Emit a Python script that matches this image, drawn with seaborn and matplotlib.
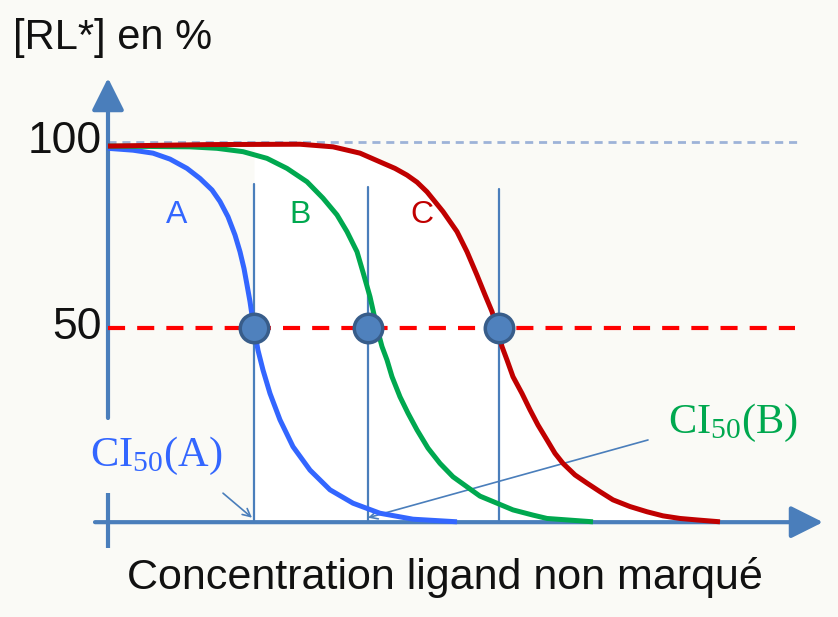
import numpy as np
import pandas as pd
import matplotlib
matplotlib.use("Agg")
import matplotlib.pyplot as plt
import seaborn as sns

# values
# x: concentration (arbitrary units), y: [RL*] in %
a_x = [0, 0.25, 0.45, 0.62, 0.79, 0.92, 1.04, 1.12, 1.20, 1.27, 1.32, 1.36, 1.39,
       1.42, 1.445, 1.47, 1.50, 1.55, 1.62, 1.72, 1.85, 2.02, 2.22, 2.45, 2.72,
       3.05, 3.49]
a_y = [98.3, 97.8, 97.0, 95.4, 92.9, 90.2, 87.1, 84.0, 79.9, 75.0, 70.5, 66.0, 61.6,
       57.1, 52.5, 48.5, 44.0, 38.7, 32.4, 25.3, 18.1, 11.8, 6.5, 2.9, 0.2,
       -1.4, -2.1]

b_x = [0, 0.82, 1.09, 1.35, 1.59, 1.79, 1.99, 2.15, 2.29, 2.39, 2.49, 2.55, 2.62,
       2.69, 2.74, 2.79, 2.84, 2.92, 3.00, 3.09, 3.20, 3.32, 3.45, 3.59, 3.72, 3.89,
       4.05, 4.25, 4.39, 4.85]
b_y = [98.9, 98.7, 98.3, 97.4, 95.6, 92.9, 89.3, 84.9, 80.4, 75.9, 70.5, 65.0, 58.4,
       50.0, 45.0, 41.4, 36.9, 31.5, 27.1, 22.6, 17.7, 13.6, 10.0, 7.3, 4.8, 2.9,
       1.1, -0.3, -1.2, -2.1]

c_x = [0, 1.0, 1.92, 2.25, 2.52, 2.75, 2.87, 2.99, 3.09, 3.19, 3.35, 3.49, 3.59,
       3.69, 3.77, 3.84, 3.89, 3.94, 3.99, 4.05, 4.14, 4.22, 4.30, 4.39, 4.47, 4.55,
       4.67, 4.79, 4.92, 5.05, 5.22, 5.39, 5.55, 5.72, 5.89, 6.12]
c_y = [98.9, 99.3, 99.4, 98.7, 97.0, 94.3, 92.9, 91.1, 89.2, 86.6, 81.3, 75.9, 70.5,
       64.2, 58.9, 54.4, 50.0, 45.0, 41.4, 36.9, 32.4, 28.0, 23.9, 19.9, 16.3, 13.6,
       10.5, 8.3, 6.0, 3.8, 2.0, 0.6, -0.5, -1.2, -1.6, -2.1]

curve_names = ["A", "B", "C"]
ci50_x = [1.46, 2.60, 3.91]      # CI50 of each curve
ci50_top = [88.7, 87.9, 87.4]    # top of the vertical guides
label_x = [0.69, 1.92, 3.14]     # where the letters A, B, C sit
label_y = 80.4
y_ticks = [100, 50]

colors = {"A": "#3366ff", "B": "#00a84f", "C": "#c00000"}
axis_col = "#4a7ebb"
bg = "#fafaf6"

df = pd.concat([
    pd.DataFrame({"x": a_x, "y": a_y, "curve": "A"}),
    pd.DataFrame({"x": b_x, "y": b_y, "curve": "B"}),
    pd.DataFrame({"x": c_x, "y": c_y, "curve": "C"}),
], ignore_index=True)
pts = pd.DataFrame({"x": ci50_x, "y": [50] * 3, "curve": curve_names})

sns.set_style("white")
plt.rcParams["font.family"] = ["Liberation Sans", "DejaVu Sans"]
plt.rcParams["mathtext.fontset"] = "custom"
plt.rcParams["mathtext.rm"] = "Liberation Serif"

fig = plt.figure(figsize=(8.38, 6.17), dpi=100, facecolor=bg)
ax = fig.add_axes([0, 0, 1, 1])
ax.set_facecolor(bg)

y0 = -2.2   # height of the drawn x axis

# white area under curve C, right of the first guide
cx = np.array(c_x)
cy = np.array(c_y)
keep = cx > ci50_x[0]
fx = np.r_[ci50_x[0], cx[keep]]
fy = np.r_[np.interp(ci50_x[0], cx, cy), cy[keep]]
ax.fill_between(fx, y0, fy, color="white", lw=0, zorder=0)

# reference levels
ax.plot([0, 6.9], [100, 100], color="#9db3d8", lw=2, ls=(0, (2.9, 2.1)), zorder=1)
ax.plot([0, 6.87], [50, 50], color="#ff0000", lw=3, ls=(0, (4.1, 2.9)), zorder=3)

# vertical guides at the CI50
for xv, top in zip(ci50_x, ci50_top):
    ax.plot([xv, xv], [y0, top], color=axis_col, lw=1.6, zorder=2)

# axes with arrows
arr = dict(arrowstyle="-|>,head_length=0.9,head_width=0.45", color=axis_col,
           lw=3, mutation_scale=22, shrinkA=0, shrinkB=0)
ax.annotate("", xy=(7.15, y0), xytext=(-0.13, y0), arrowprops=arr, zorder=2)
ax.annotate("", xy=(0, 117.2), xytext=(0, 25.8), arrowprops=arr, zorder=2)
ax.plot([0, 0], [-9.1, 5.6], color=axis_col, lw=3, solid_capstyle="butt", zorder=2)

sns.lineplot(data=df, x="x", y="y", hue="curve", palette=colors, lw=3.6,
             sort=False, legend=False, ax=ax, zorder=4,
             solid_joinstyle="round", solid_capstyle="butt")
sns.scatterplot(data=pts, x="x", y="y", s=420, color="#4f81bd",
                edgecolor="#385d8a", linewidth=2.5, legend=False, ax=ax, zorder=5)
ax.set_xlim(-1.08, 7.30)
ax.set_ylim(-27.69, 138.17)
ax.axis("off")

# texts
ax.text(-0.95, 128, "[RL*] en %", fontsize=30, va="center", ha="left", color="#111111")
for v in y_ticks:
    ax.text(-0.06, v, str(v), fontsize=32, ha="right", va="center", color="#111111")
for name, lx in zip(curve_names, label_x):
    ax.text(lx, label_y, name, fontsize=23, ha="center", va="center", color=colors[name])
ax.text(3.37, -17.0, "Concentration ligand non marqué", fontsize=31,
        ha="center", va="center", color="#111111")

ax.text(-0.18, 15.5, r"$\mathrm{CI_{50}(A)}$", fontsize=30.5, ha="left", va="center",
        color=colors["A"])
ax.text(5.60, 24.5, r"$\mathrm{CI_{50}(B)}$", fontsize=30.5, ha="left", va="center",
        color=colors["B"])

thin = dict(arrowstyle="->", color=axis_col, lw=1.2, shrinkA=0, shrinkB=0,
            mutation_scale=14)
ax.annotate("", xy=(1.44, -1.0), xytext=(1.15, 5.6), arrowprops=thin, zorder=3)
ax.annotate("", xy=(2.60, -1.0), xytext=(5.40, 19.9), arrowprops=thin, zorder=3)

fig.savefig("out.png", dpi=100, facecolor=bg)
